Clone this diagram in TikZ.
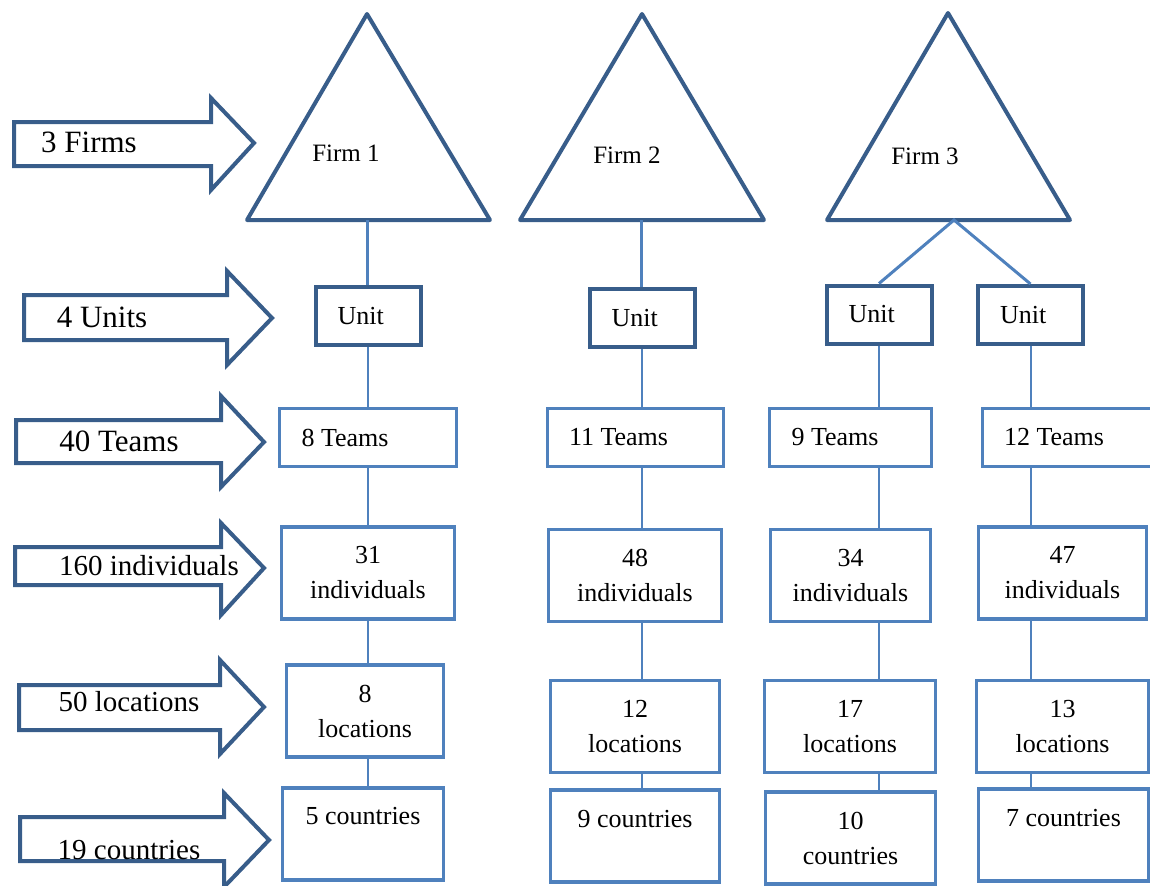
\documentclass[tikz,border=0pt]{standalone}
\usepackage{fontspec}
\setmainfont{Liberation Serif}
\usetikzlibrary{calc}

\definecolor{firmblue}{RGB}{56,93,138}
\definecolor{boxblue}{RGB}{79,129,189}
\newcommand{\boxfont}{\fontsize{13}{17.5}\selectfont}

\begin{document}
\begin{tikzpicture}[x=0.5pt,y=-0.5pt,
  firm/.style={draw=firmblue,line width=2pt,line join=round},
  bigarrow/.style={draw=firmblue,line width=2pt,line join=miter},
  firmtext/.style={font=\fontsize{12.5}{15}\selectfont},
  toptext/.style={font=\fontsize{15.5}{18}\selectfont},
  lowtext/.style={font=\fontsize{14.5}{17}\selectfont},
  unitbox/.style={draw=firmblue,line width=2pt,inner xsep=11pt,text width=30.5pt,
    minimum height=29pt,align=flush left,font=\boxfont},
  teambox/.style={draw=boxblue,line width=1.5pt,inner xsep=11pt,text width=#1,
    minimum height=29pt,align=flush left,font=\boxfont},
  databox/.style={draw=boxblue,line width=1.7pt,inner xsep=0pt,text width=#1,
    minimum height=46pt,align=flush center,font=\boxfont},
  uplink/.style={draw=boxblue,line width=1.5pt},
  link/.style={draw=boxblue,line width=1pt}
]
\useasboundingbox (0,0) rectangle (1150,885);

% left arrows
\draw[bigarrow] (14,122) -- (211,122) -- (211,98) -- (254,143) -- (211,190) -- (211,166) -- (14,166) -- cycle;
\draw[bigarrow] (24,295) -- (227,295) -- (227,271) -- (272,318) -- (227,365) -- (227,340) -- (24,340) -- cycle;
\draw[bigarrow] (16,420) -- (221,420) -- (221,396) -- (264,442) -- (221,487) -- (221,463) -- (16,463) -- cycle;
\draw[bigarrow] (15,547) -- (221,547) -- (221,523) -- (264,568) -- (221,615) -- (221,585) -- (15,585) -- cycle;
\draw[bigarrow] (19,685) -- (220,685) -- (220,660) -- (264,707) -- (220,754) -- (220,730) -- (19,730) -- cycle;
\draw[bigarrow] (20,817) -- (224,817) -- (224,793) -- (269,840) -- (224,887) -- (224,861) -- (20,861) -- cycle;
\node[toptext] (a1) at (89,142.5) {3 Firms};
\node[toptext] (a2) at (102,317.5) {4 Units};
\node[toptext] (a3) at (119,441) {40 Teams};
\node[lowtext] (a4) at (149,566) {160 individuals};
\node[lowtext] (a5) at (129,702) {50 locations};
\node[lowtext] (a6) at (129,850) {19 countries};

% firms
\draw[firm] (247,220) -- (367,14) -- (490,220) -- cycle;
\draw[firm] (520,220) -- (642,14) -- (764,220) -- cycle;
\draw[firm] (827,220) -- (948,13) -- (1070,220) -- cycle;
\coordinate (f1b) at (367,220);
\coordinate (f2b) at (641,220);
\coordinate (f3b) at (954,220);
\node[firmtext] (f1) at (346,153) {Firm 1};
\node[firmtext] (f2) at (627,155) {Firm 2};
\node[firmtext] (f3) at (925,156) {Firm 3};

% units
\node[unitbox] (u1) at (368,316) {Unit};
\node[unitbox] (u2) at (642,318) {Unit};
\node[unitbox] (u3a) at (879,314.5) {Unit};
\node[unitbox] (u3b) at (1030.5,315) {Unit};

% teams
\node[teambox=66.5pt] (t1) at (368,437.5) {8 Teams};
\node[teambox=66pt] (t2) at (635,437.5) {11 Teams};
\node[teambox=59pt] (t3a) at (850.5,437.5) {9 Teams};
\node[teambox=65pt] (t3b) at (1069,437.5) {12 Teams};

% individuals
\node[databox=86.5pt] (i1) at (368,573) {31\\individuals};
\node[databox=86.5pt] (i2) at (635,575.5) {48\\individuals};
\node[databox=80pt] (i3a) at (850.5,575.5) {34\\individuals};
\node[databox=84pt] (i3b) at (1062.5,573) {47\\individuals};

% locations
\node[databox=78.5pt] (l1) at (365,711) {8\\locations};
\node[databox=84.5pt] (l2) at (635,726.5) {12\\locations};
\node[databox=85.5pt] (l3a) at (850,726.5) {17\\locations};
\node[databox=86pt] (l3b) at (1062.5,726.5) {13\\locations};

% countries
\node[databox=80.5pt] (c1) at (363,834) {5 countries\\\phantom{countries}};
\node[databox=84.5pt] (c2) at (635,836) {9 countries\\\phantom{countries}};
\node[databox=85pt] (c3a) at (850.5,838) {10\\countries};
\node[databox=85pt] (c3b) at (1063.5,835) {7 countries\\\phantom{countries}};

% links
\draw[uplink] (f1b) -- (f1b |- u1.north);
\draw[uplink] (f2b) -- (f2b |- u2.north);
\draw[uplink] (u3a.north) -- (f3b) -- (u3b.north);
\foreach \c/\a/\b in {u1/u1/t1,u1/t1/i1,u1/i1/l1,u1/l1/c1,
                      u2/u2/t2,u2/t2/i2,u2/i2/l2,u2/l2/c2,
                      u3a/u3a/t3a,u3a/t3a/i3a,u3a/i3a/l3a,u3a/l3a/c3a,
                      u3b/u3b/t3b,u3b/t3b/i3b,u3b/i3b/l3b,u3b/l3b/c3b}
  \draw[link] (\a.south -| \c) -- (\b.north -| \c);
\end{tikzpicture}
\end{document}
